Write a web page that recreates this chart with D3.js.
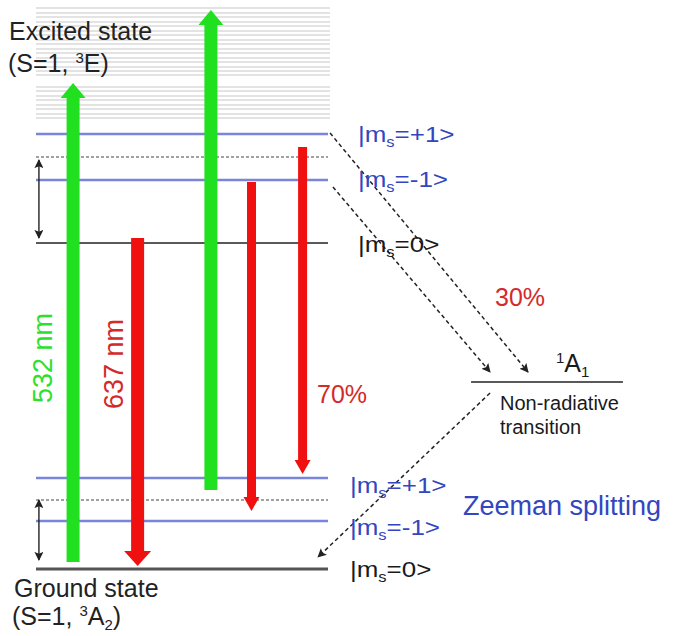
<!DOCTYPE html>
<html>
<head>
<meta charset="utf-8">
<script src="https://cdn.jsdelivr.net/npm/d3@7"></script>
<style>
	body { margin: 0; background: #fff; }
	text { font-family: "Liberation Sans", Arial, sans-serif; }
</style>
</head>
<body>
<svg id="diagram" width="677" height="636"></svg>
<script>
// energies in arbitrary units (0 = ground |ms=0>), x in units across the level block (0..100)

// vibronic band of the excited state (thin grey lines)
var vibLevels = [561, 556, 552, 547, 543, 538, 534, 529, 525, 520, 516, 511, 507, 502, 498, 494,
	482, 478, 473, 469, 464, 460, 455, 451];

// spin sublevels
var spinLevels = [
	{ id: "ex+1", ms: "+1", e: 435 },
	{ id: "ex-1", ms: "-1", e: 389 },
	{ id: "ex0", ms: "0", e: 326 },
	{ id: "gr+1", ms: "+1", e: 91 },
	{ id: "gr-1", ms: "-1", e: 48 },
	{ id: "gr0", ms: "0", e: 0 }
];

// zero-field reference levels (dashed)
var zeroFieldLevels = [412, 69];

// singlet 1A1 level, drawn to the right of the block
var singlet = { name: "A", e: 187, x0: 149, x1: 201 };

// optical transitions
var opticalArrows = [
	{ label: "532 nm", kind: "pump", x: 12.7, from: 7, to: 486 },
	{ label: "637 nm", kind: "emit", x: 34.8, from: 331, to: 3 },
	{ label: "", kind: "pump", x: 59.9, from: 79, to: 559 },
	{ label: "", kind: "emitThin", x: 73.8, from: 387, to: 58 },
	{ label: "", kind: "emitThin", x: 91.3, from: 422, to: 95 }
];

// intersystem crossing (dashed arrows)
var iscArrows = [
	{ x0: 100.7, e0: 436, x1: 168.5, e1: 197 },
	{ x0: 101.7, e0: 382, x1: 155.5, e1: 197 },
	{ x0: 155.5, e0: 176, x1: 96.6, e1: 12 }
];

// zero field splitting double arrows
var splitArrows = [
	{ x: 1, e0: 409, e1: 331 },
	{ x: 1, e0: 69, e1: 9 }
];

var branchLabels = ["70%", "30%"];

var svg = d3.select("#diagram");

var y = d3.scaleLinear().domain([0, 560]).range([569, 9]);
var x = d3.scaleLinear().domain([0, 100]).range([36, 328]);

var arrowStyle = {
	pump: { fill: "#20e020", w: 13, hw: 25, hl: 15 },
	emit: { fill: "#f01010", w: 13, hw: 27, hl: 15 },
	emitThin: { fill: "#f01010", w: 9, hw: 16, hl: 14 }
};

var blue = "#7885d8", blueText = "#3346c0", redText = "#d42a2a", greenText = "#2ee02e";

var defs = svg.append("defs");
defs.append("marker")
	.attr("id", "tip")
	.attr("viewBox", "0 0 10 10")
	.attr("refX", 9).attr("refY", 5)
	.attr("markerWidth", 9).attr("markerHeight", 9)
	.attr("markerUnits", "userSpaceOnUse")
	.attr("orient", "auto-start-reverse")
	.append("path")
		.attr("d", "M0,0 L10,5 L0,10 L2,5 Z")
		.attr("fill", "#222");

// vibronic lines
svg.append("g")
	.selectAll("line")
	.data(vibLevels)
	.enter().append("line")
		.attr("x1", x(0)).attr("x2", x(100.7))
		.attr("y1", function(d) { return y(d); })
		.attr("y2", function(d) { return y(d); })
		.attr("stroke", "#c8c8c8")
		.attr("stroke-width", 1.2);

// dashed zero-field levels
svg.append("g")
	.selectAll("line")
	.data(zeroFieldLevels)
	.enter().append("line")
		.attr("x1", x(0)).attr("x2", x(100))
		.attr("y1", function(d) { return y(d); })
		.attr("y2", function(d) { return y(d); })
		.attr("stroke", "#444")
		.attr("stroke-width", 1.2)
		.attr("stroke-dasharray", "3,2");

// spin levels
svg.append("g")
	.selectAll("line")
	.data(spinLevels)
	.enter().append("line")
		.attr("x1", x(0)).attr("x2", x(100))
		.attr("y1", function(d) { return y(d.e); })
		.attr("y2", function(d) { return y(d.e); })
		.attr("stroke", function(d) { return d.ms == "0" ? (d.id == "gr0" ? "#555" : "#222") : blue; })
		.attr("stroke-width", function(d) { return d.id == "gr0" ? 3 : (d.ms == "0" ? 1.4 : 2.5); });

// singlet level
svg.append("line")
	.attr("x1", x(singlet.x0)).attr("x2", x(singlet.x1))
	.attr("y1", y(singlet.e)).attr("y2", y(singlet.e))
	.attr("stroke", "#222").attr("stroke-width", 1.6);

// splitting double arrows
svg.append("g")
	.selectAll("line")
	.data(splitArrows)
	.enter().append("line")
		.attr("x1", function(d) { return x(d.x); })
		.attr("x2", function(d) { return x(d.x); })
		.attr("y1", function(d) { return y(d.e0); })
		.attr("y2", function(d) { return y(d.e1); })
		.attr("stroke", "#222")
		.attr("stroke-width", 1.4)
		.attr("marker-start", "url(#tip)")
		.attr("marker-end", "url(#tip)");

// block arrows
function blockArrow(d) {
	var s = arrowStyle[d.kind];
	var cx = x(d.x), y0 = y(d.from), y1 = y(d.to);
	var dir = y1 < y0 ? -1 : 1;
	var yb = y1 - dir * s.hl;
	var p = d3.path();
	p.moveTo(cx - s.w / 2, y0);
	p.lineTo(cx - s.w / 2, yb);
	p.lineTo(cx - s.hw / 2, yb);
	p.lineTo(cx, y1);
	p.lineTo(cx + s.hw / 2, yb);
	p.lineTo(cx + s.w / 2, yb);
	p.lineTo(cx + s.w / 2, y0);
	p.closePath();
	return p.toString();
}

svg.append("g")
	.selectAll("path")
	.data(opticalArrows)
	.enter().append("path")
		.attr("d", blockArrow)
		.attr("fill", function(d) { return arrowStyle[d.kind].fill; });

// dashed ISC arrows
svg.append("g")
	.selectAll("line")
	.data(iscArrows)
	.enter().append("line")
		.attr("x1", function(d) { return x(d.x0); })
		.attr("y1", function(d) { return y(d.e0); })
		.attr("x2", function(d) { return x(d.x1); })
		.attr("y2", function(d) { return y(d.e1); })
		.attr("stroke", "#222")
		.attr("stroke-width", 1.5)
		.attr("stroke-dasharray", "4,3")
		.attr("marker-end", "url(#tip)");

// wavelength labels (rotated)
svg.append("g")
	.selectAll("text")
	.data(opticalArrows.filter(function(d) { return d.label; }))
	.enter().append("text")
		.attr("transform", function(d, i) {
			var cx = i == 0 ? x(d.x) - 31 : x(d.x) - 24;
			return "translate(" + cx + "," + (i == 0 ? 358 : 364) + ") rotate(-90)";
		})
		.attr("text-anchor", "middle")
		.attr("dy", "0.36em")
		.attr("font-size", 27)
		.attr("fill", function(d) { return d.kind == "pump" ? greenText : redText; })
		.text(function(d) { return d.label; });

// spin level labels
var labelOffset = { "ex+1": [358, 8], "ex-1": [358, 7], "ex0": [358, 9], "gr+1": [350, 15], "gr-1": [350, 14], "gr0": [350, 8] };

var msText = svg.append("g")
	.selectAll("text")
	.data(spinLevels)
	.enter().append("text")
		.attr("transform", function(d) {
			return "translate(" + labelOffset[d.id][0] + "," + (y(d.e) + labelOffset[d.id][1]) + ") scale(1.18,1)";
		})
		.attr("font-size", 22)
		.attr("fill", function(d) { return d.ms == "0" ? "#1a1a1a" : blueText; });
msText.append("tspan").text("|m");
msText.append("tspan").attr("font-size", 14).attr("dy", 5).text("s");
msText.append("tspan").attr("dy", -5).text(function(d) { return "=" + d.ms + ">"; });

// branching percentages
svg.append("text")
	.attr("x", 317).attr("y", y(166))
	.attr("font-size", 25).attr("fill", redText)
	.text(branchLabels[0]);
svg.append("text")
	.attr("x", 495).attr("y", y(263))
	.attr("font-size", 25).attr("fill", redText)
	.text(branchLabels[1]);

// singlet label
var a1 = svg.append("text")
	.attr("x", 556).attr("y", y(singlet.e) - 10)
	.attr("font-size", 25).attr("fill", "#1a1a1a");
a1.append("tspan").attr("font-size", 15).attr("dy", -9).text("1");
a1.append("tspan").attr("dy", 9).text(singlet.name);
a1.append("tspan").attr("font-size", 15).attr("dy", 5).text("1");

svg.append("text")
	.attr("x", 500).attr("y", y(singlet.e) + 28)
	.attr("font-size", 20).attr("fill", "#1a1a1a")
	.text("Non-radiative");
svg.append("text")
	.attr("x", 500).attr("y", y(singlet.e) + 52)
	.attr("font-size", 20).attr("fill", "#1a1a1a")
	.text("transition");

svg.append("text")
	.attr("x", 463).attr("y", 515)
	.attr("font-size", 27).attr("fill", blueText)
	.text("Zeeman splitting");

// state names
svg.append("text")
	.attr("x", 9).attr("y", 40)
	.attr("font-size", 25).attr("fill", "#222")
	.text("Excited state");
var ex = svg.append("text")
	.attr("x", 8).attr("y", 72)
	.attr("font-size", 25).attr("fill", "#222");
ex.append("tspan").text("(S=1, ");
ex.append("tspan").attr("font-size", 15).attr("dy", -9).text("3");
ex.append("tspan").attr("dy", 9).text("E)");

svg.append("text")
	.attr("x", 14).attr("y", 597)
	.attr("font-size", 25).attr("fill", "#222")
	.text("Ground state");
var gr = svg.append("text")
	.attr("x", 12).attr("y", 625)
	.attr("font-size", 25).attr("fill", "#222");
gr.append("tspan").text("(S=1, ");
gr.append("tspan").attr("font-size", 15).attr("dy", -9).text("3");
gr.append("tspan").attr("dy", 9).text("A");
gr.append("tspan").attr("font-size", 15).attr("dy", 5).text("2");
gr.append("tspan").attr("dy", -5).text(")");
</script>
</body>
</html>
